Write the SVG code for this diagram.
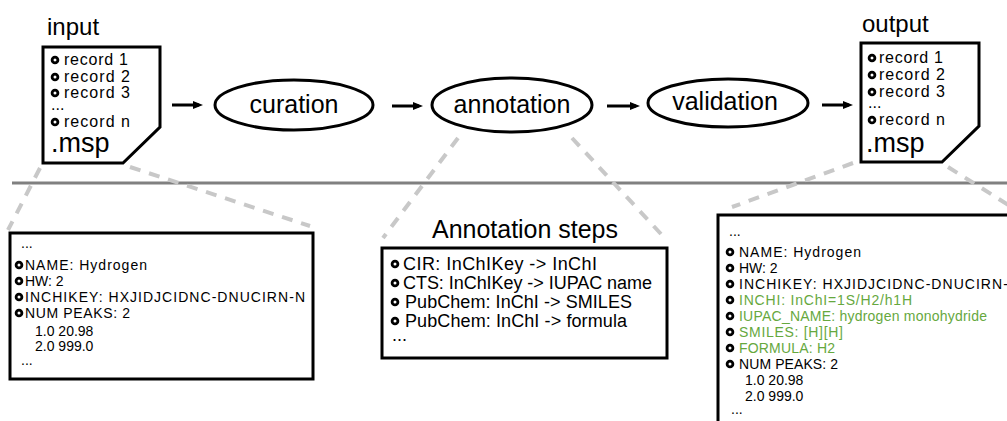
<svg xmlns="http://www.w3.org/2000/svg" width="1007" height="421" viewBox="0 0 1007 421">
<defs>
<marker id="arr" viewBox="0 0 10 8" refX="6" refY="4" markerWidth="10" markerHeight="8" markerUnits="userSpaceOnUse" orient="auto">
<path d="M0,0 L10,4 L0,8 Z" fill="#000"/>
</marker>
<style>
text{font-family:"Liberation Sans",Arial,sans-serif;fill:#000}
.doc{fill:#fff;stroke:#000;stroke-width:3;stroke-linejoin:miter}
.ell{fill:#fff;stroke:#000;stroke-width:3}
.box{fill:#fff;stroke:#000;stroke-width:3}
.arrow{stroke:#000;stroke-width:3;fill:none}
.dash{stroke:#c8c8c8;stroke-width:4;stroke-dasharray:11 9;fill:none}
.sep{stroke:#808080;stroke-width:3}
.bul{fill:#fff;stroke:#000;stroke-width:2.8}
.rec{font-size:16px}
.msp{font-size:27px}
.lbl{font-size:24px}
.proc{font-size:25px}
.sm{font-size:14px}
.ann{font-size:18px}
.g{fill:#66a83e}
</style>
</defs>

<line class="sep" x1="12" y1="183" x2="1007" y2="183"/>

<g id="connectors">
<line class="arrow" x1="172" y1="105" x2="199" y2="105" marker-end="url(#arr)"/>
<line class="arrow" x1="392" y1="106" x2="419" y2="106" marker-end="url(#arr)"/>
<line class="arrow" x1="607" y1="106" x2="636" y2="106" marker-end="url(#arr)"/>
<line class="arrow" x1="822" y1="105" x2="849" y2="105" marker-end="url(#arr)"/>
<line class="dash" x1="40" y1="168" x2="8" y2="230"/>
<line class="dash" x1="130" y1="167" x2="310" y2="226"/>
<line class="dash" x1="458" y1="138" x2="383" y2="238"/>
<line class="dash" x1="572" y1="138" x2="661" y2="234"/>
<line class="dash" x1="853" y1="163" x2="732" y2="207"/>
<line class="dash" x1="948" y1="167" x2="1010" y2="206"/>
</g>

<g id="input">
<text class="lbl" x="47" y="35">input</text>
<path class="doc" d="M43,47 H160 V127 L123,163 H43 Z"/>
<circle class="bul" cx="55" cy="60" r="2.9"/>
<text class="rec" x="64" y="65" textLength="64">record 1</text>
<circle class="bul" cx="55" cy="77" r="2.9"/>
<text class="rec" x="64" y="82" textLength="66">record 2</text>
<circle class="bul" cx="55" cy="93" r="2.9"/>
<text class="rec" x="64" y="98" textLength="66">record 3</text>
<text class="rec" x="51" y="110">...</text>
<circle class="bul" cx="55" cy="122" r="2.9"/>
<text class="rec" x="64" y="127" textLength="66">record n</text>
<text class="msp" x="51" y="152">.msp</text>
</g>

<g id="curation">
<ellipse class="ell" cx="294" cy="105" rx="79" ry="25"/>
<text class="proc" x="294" y="113" text-anchor="middle">curation</text>
</g>

<g id="annotation">
<ellipse class="ell" cx="512" cy="105" rx="80" ry="27"/>
<text class="proc" x="512" y="113" text-anchor="middle">annotation</text>
</g>

<g id="validation">
<ellipse class="ell" cx="728" cy="103" rx="80" ry="24"/>
<text class="proc" x="725" y="110" text-anchor="middle">validation</text>
</g>

<g id="output">
<text class="lbl" x="862" y="32">output</text>
<path class="doc" d="M861,43 H979 V126 L942,162 H861 Z"/>
<circle class="bul" cx="872" cy="58" r="2.9"/>
<text class="rec" x="879" y="63" textLength="64">record 1</text>
<circle class="bul" cx="872" cy="75" r="2.9"/>
<text class="rec" x="879" y="80" textLength="66">record 2</text>
<circle class="bul" cx="872" cy="92" r="2.9"/>
<text class="rec" x="879" y="97" textLength="66">record 3</text>
<text class="rec" x="868" y="108">...</text>
<circle class="bul" cx="872" cy="120" r="2.9"/>
<text class="rec" x="879" y="125" textLength="66">record n</text>
<text class="msp" x="866" y="152">.msp</text>
</g>

<g id="input-record">
<rect class="box" x="10" y="233" width="303" height="146"/>
<text class="sm" x="21" y="248">...</text>
<circle class="bul" cx="19" cy="265" r="2.9"/>
<text class="sm" x="25" y="270" textLength="122">NAME: Hydrogen</text>
<circle class="bul" cx="19" cy="281" r="2.9"/>
<text class="sm" x="25" y="286">HW: 2</text>
<circle class="bul" cx="19" cy="297" r="2.9"/>
<text class="sm" x="25" y="302" textLength="280">INCHIKEY: HXJIDJCIDNC-DNUCIRN-N</text>
<circle class="bul" cx="19" cy="313" r="2.9"/>
<text class="sm" x="25" y="318" textLength="105">NUM PEAKS: 2</text>
<text class="sm" x="35" y="336">1.0 20.98</text>
<text class="sm" x="35" y="351">2.0 999.0</text>
<text class="sm" x="21" y="365">...</text>
</g>

<g id="annotation-steps">
<text x="525" y="238" font-size="25" text-anchor="middle" textLength="186">Annotation steps</text>
<rect class="box" x="382" y="248" width="285" height="110"/>
<circle class="bul" cx="395" cy="264" r="2.9"/>
<text class="ann" x="403" y="270" textLength="194">CIR: InChIKey -&gt; InChI</text>
<circle class="bul" cx="395" cy="283" r="2.9"/>
<text class="ann" x="403" y="289" textLength="249">CTS: InChIKey -&gt; IUPAC name</text>
<circle class="bul" cx="395" cy="302" r="2.9"/>
<text class="ann" x="405" y="308" textLength="227">PubChem: InChI -&gt; SMILES</text>
<circle class="bul" cx="395" cy="321" r="2.9"/>
<text class="ann" x="405" y="327" textLength="222">PubChem: InChI -&gt; formula</text>
<text class="ann" x="392" y="341">...</text>
</g>

<g id="output-record">
<rect class="box" x="718" y="215" width="300" height="220"/>
<text class="sm" x="729" y="236">...</text>
<circle class="bul" cx="730" cy="252" r="2.9"/>
<text class="sm" x="739" y="257" textLength="122">NAME: Hydrogen</text>
<circle class="bul" cx="730" cy="268" r="2.9"/>
<text class="sm" x="739" y="273">HW: 2</text>
<circle class="bul" cx="730" cy="284" r="2.9"/>
<text class="sm" x="739" y="289" textLength="280">INCHIKEY: HXJIDJCIDNC-DNUCIRN-N</text>
<circle class="bul" cx="730" cy="300" r="2.9"/>
<text class="sm g" x="739" y="305" textLength="173">INCHI: InChI=1S/H2/h1H</text>
<circle class="bul" cx="730" cy="316" r="2.9"/>
<text class="sm g" x="739" y="321" textLength="248">IUPAC_NAME: hydrogen monohydride</text>
<circle class="bul" cx="730" cy="332" r="2.9"/>
<text class="sm g" x="739" y="337" textLength="104">SMILES: [H][H]</text>
<circle class="bul" cx="730" cy="348" r="2.9"/>
<text class="sm g" x="739" y="353" textLength="96">FORMULA: H2</text>
<circle class="bul" cx="730" cy="364" r="2.9"/>
<text class="sm" x="739" y="369" textLength="99">NUM PEAKS: 2</text>
<text class="sm" x="745" y="385">1.0 20.98</text>
<text class="sm" x="745" y="401">2.0 999.0</text>
<text class="sm" x="731" y="414">...</text>
</g>
</svg>
